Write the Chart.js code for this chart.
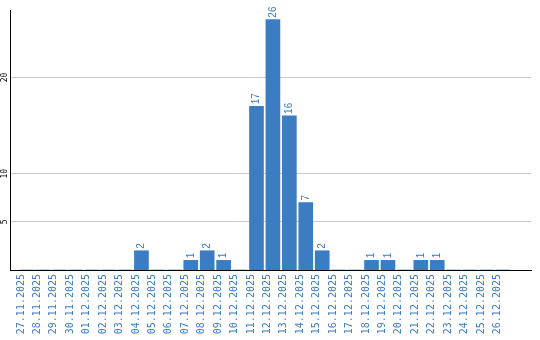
<!DOCTYPE html>
<html>
<head>
<meta charset="utf-8">
<script src="https://cdn.jsdelivr.net/npm/chart.js@4/dist/chart.umd.min.js"></script>
<style>
  body { margin: 0; background: #fff; }
  canvas { display: block; }
</style>
</head>
<body>
<canvas id="mycanvas" width="540" height="340"></canvas>
<script>
var dates = ['27.11.2025','28.11.2025','29.11.2025','30.11.2025','01.12.2025','02.12.2025',
  '03.12.2025','04.12.2025','05.12.2025','06.12.2025','07.12.2025','08.12.2025','09.12.2025',
  '10.12.2025','11.12.2025','12.12.2025','13.12.2025','14.12.2025','15.12.2025','16.12.2025',
  '17.12.2025','18.12.2025','19.12.2025','20.12.2025','21.12.2025','22.12.2025','23.12.2025',
  '24.12.2025','25.12.2025','26.12.2025'];
var counts = [0,0,0,0,0,0,0,2,0,0,1,2,1,0,17,26,16,7,2,0,0,1,1,0,1,1,0,0,0,0];
var yTicks = [5, 10, 20];

var blue = '#3b7cc2';

// bar value labels + rotated y tick labels
var labelPlugin = {
  id: 'labels',
  afterDatasetsDraw: function(chart) {
    var ctx = chart.ctx;
    var meta = chart.getDatasetMeta(0);
    ctx.save();
    ctx.fillStyle = blue;
    ctx.font = '10px "Liberation Sans", Arial, sans-serif';
    ctx.textAlign = 'left';
    ctx.textBaseline = 'middle';
    meta.data.forEach(function(bar, i) {
      if (!counts[i]) return;
      ctx.save();
      ctx.translate(bar.x, bar.y - 2);
      ctx.rotate(-Math.PI / 2);
      ctx.fillText(String(counts[i]), 0, 0);
      ctx.restore();
    });
    var y = chart.scales.y;
    ctx.fillStyle = '#000';
    ctx.font = '8px "DejaVu Sans Mono", monospace';
    ctx.textAlign = 'center';
    ctx.textBaseline = 'middle';
    yTicks.forEach(function(t) {
      ctx.save();
      ctx.translate(4.5, y.getPixelForValue(t));
      ctx.rotate(-Math.PI / 2);
      ctx.fillText(String(t), 0, 0);
      ctx.restore();
    });
    ctx.restore();
  }
};

var ctx = document.getElementById('mycanvas');
var chart = new Chart(ctx, {
  type: 'bar',
  data: {
    datasets: [{
      label: 'count',
      data: counts.map(function(v, i) { return { x: i, y: v }; }),
      backgroundColor: blue,
      borderWidth: 0,
      barThickness: 14
    }]
  },
  options: {
    responsive: false,
    animation: false,
    layout: { padding: { top: 10, right: 9, left: 0, bottom: 0 } },
    plugins: { legend: { display: false }, tooltip: { enabled: false } },
    scales: {
      x: {
        type: 'linear',
        min: -8 / 17,
        max: -8 / 17 + 521 / 17,
        afterBuildTicks: function(scale) {
          scale.ticks = dates.map(function(d, i) { return { value: i }; });
        },
        afterFit: function(scale) { scale.height = 70; },
        grid: { display: false, drawTicks: false },
        border: { display: true, color: '#000', width: 1 },
        ticks: {
          autoSkip: false,
          minRotation: 90,
          maxRotation: 90,
          padding: 4,
          labelOffset: -5.5,
          color: blue,
          font: { family: '"DejaVu Sans Mono", monospace', size: 10 },
          callback: function(v) { return dates[v]; }
        }
      },
      y: {
        min: 0,
        max: 27,
        afterBuildTicks: function(scale) {
          scale.ticks = yTicks.map(function(v) { return { value: v }; });
        },
        afterFit: function(scale) { scale.width = 10; },
        grid: { color: '#c8c8c8', lineWidth: 1, drawTicks: false },
        border: { display: true, color: '#000', width: 1 },
        ticks: { display: false }
      }
    }
  },
  plugins: [labelPlugin]
});
</script>
</body>
</html>
